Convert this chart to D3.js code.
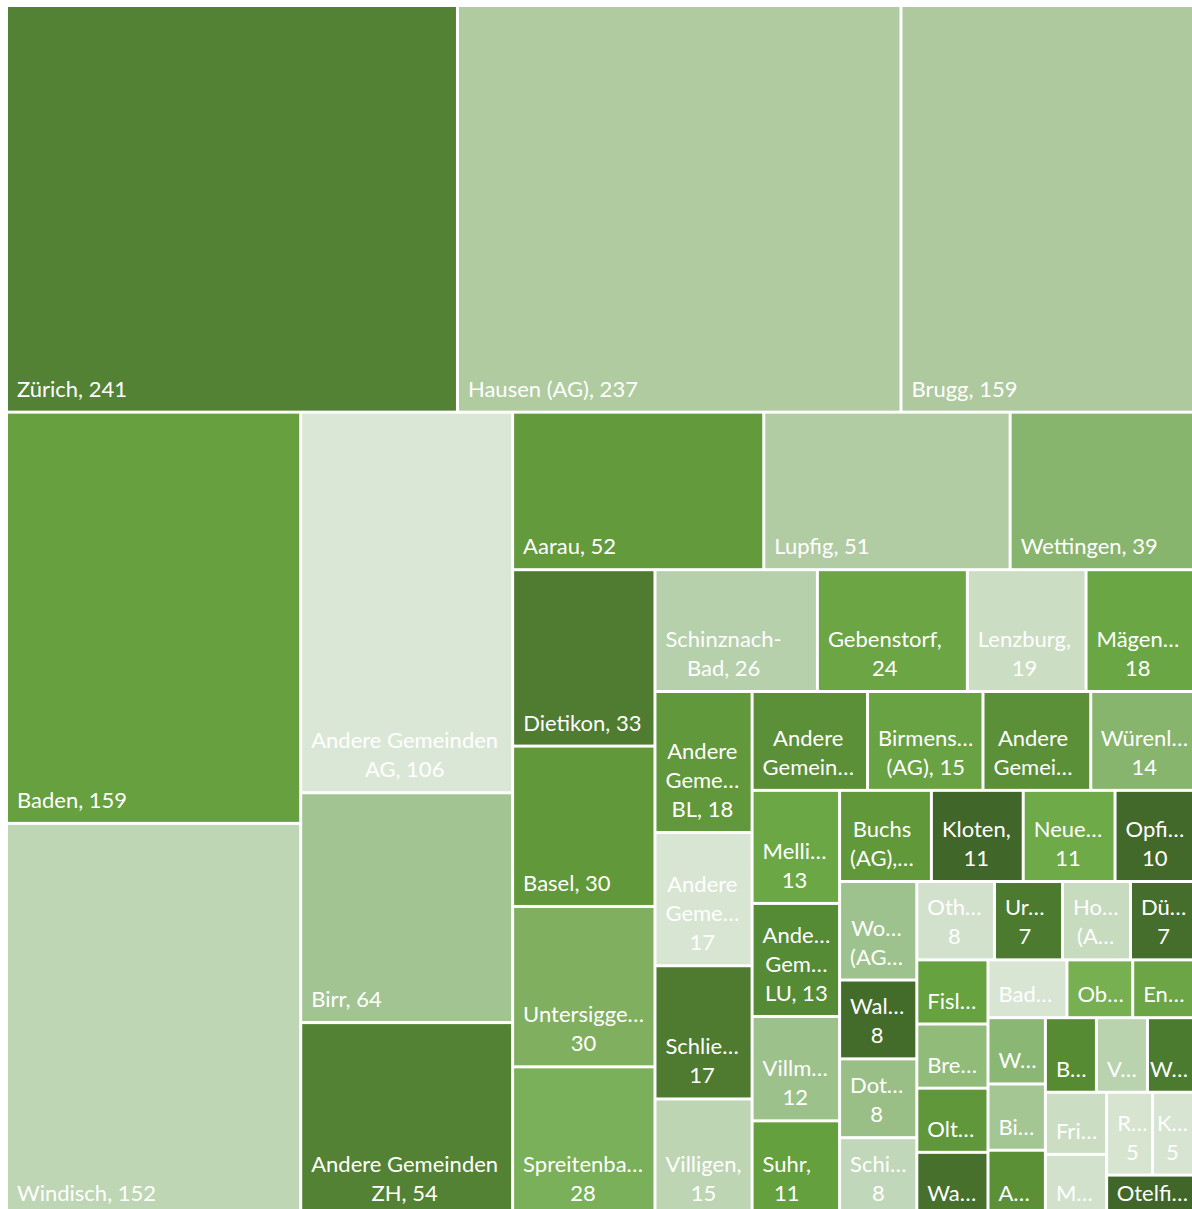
<!DOCTYPE html>
<html>
<head>
<meta charset="utf-8">
<script src="https://cdn.jsdelivr.net/npm/d3@7"></script>
<style>
html,body{margin:0;padding:0;background:#fff;}
svg{display:block;}
</style>
</head>
<body>
<svg id="chart" width="1192" height="1209"></svg>
<script>
const places = [
  "Zürich","Hausen (AG)","Brugg","Baden","Windisch","Andere Gemeinden AG","Birr","Andere Gemeinden ZH",
  "Aarau","Lupfig","Wettingen","Dietikon","Basel","Untersiggenthal","Spreitenbach","Schinznach-Bad",
  "Gebenstorf","Lenzburg","Mägenwil","Andere Gemeinden BL","Andere Gemeinden","Schlieren","Villigen",
  "Andere Gemeinden SO","Birmenstorf (AG)","Andere Gemeinden BE","Würenlingen","Mellingen",
  "Andere Gemeinden LU","Villmergen","Suhr","Buchs (AG)","Kloten","Neuenhof","Opfikon","Wohlen (AG)",
  "Wallisellen","Dottikon","Schinznach-Dorf","Othmarsingen","Urdorf","Holderbank (AG)","Dübendorf",
  "Fislisbach","Bremgarten (AG)","Olten","Waltenschwil","Bad Zurzach","Oberrohrdorf","Ennetbaden",
  "Wohlenschwil","Birrhard","Auenstein","Bözberg","Veltheim (AG)","Winterthur","Frick","Mülligen",
  "Riniken","Killwangen","Otelfingen"
];
const counts = [
  241,237,159,159,152,106,64,54,
  52,51,39,33,30,30,28,26,
  24,19,18,18,17,17,15,
  15,15,14,14,13,
  13,12,11,11,11,11,10,10,
  8,8,8,8,7,7,7,
  6,6,6,6,6,5,5,
  5,5,5,5,5,5,5,5,
  5,5,5
];
const tileColors = [
  "#548235","#afcb9f","#aec99e","#66a03f","#bed6b4","#dbe7d6","#a2c492","#548235",
  "#639b3c","#b1cca3","#88b56d","#4f7c31","#60983a","#80b05f","#7bb05b","#b6d0ab",
  "#6ba544","#cbddc3","#6ba645","#60983b","#d8e5d2","#4e7b30","#bdd5b3",
  "#5b8f38","#68a242","#5b8f38","#87b56d","#6ca746",
  "#558b35","#9dc18b","#64a03e","#60983a","#406729","#6eaa48","#42682a","#9ec28d",
  "#436c2b","#99bf87","#c1d7b9","#d2e1cc","#4c7b2f","#c7dbbf","#456e2c",
  "#67a241","#90bb79","#5f973a","#46702c","#d8e5d3","#77b051","#6ba545",
  "#8ab773","#a3c693","#5b9037","#568b34","#b9d3af","#4b7b2f","#cbdec4","#d1e1cb",
  "#d6e4d0","#d7e4d1","#406729"
];

const data = places.map((p, i) => ({name: p, value: counts[i], color: tileColors[i]}));

const svg = d3.select("#chart");
const SVG_W = 1192;
const X0 = 8, Y0 = 7, W = 1189, H = 1208;

const root = d3.hierarchy({children: data})
  .sum(d => d.value || 0)
  .sort((a, b) => b.value - a.value);

// Squarified tiling that stops a strip when the newest tile's aspect ratio gets worse
function stripTile(parent, x0, y0, x1, y1) {
  const nodes = parent.children, n = nodes.length;
  let value = parent.value, i0 = 0;
  while (i0 < n) {
    const dx = x1 - x0, dy = y1 - y0;
    const across = dx < dy; // strip along the top
    const side = across ? dx : dy;
    const depth = across ? dy : dx;
    const ratio = (v, s) => {
      const t = depth * s / value;
      const len = side * v / s;
      return Math.max(t / len, len / t);
    };
    let sum = nodes[i0].value;
    let prev = ratio(nodes[i0].value, sum);
    let i1 = i0 + 1;
    while (i1 < n) {
      const v = nodes[i1].value;
      const r = ratio(v, sum + v);
      if (r > prev) break;
      sum += v; prev = r; i1++;
    }
    const row = {children: nodes.slice(i0, i1), value: sum};
    if (i1 >= n) {
      if (across) d3.treemapDice(row, x0, y0, x1, y1);
      else d3.treemapSlice(row, x0, y0, x1, y1);
    } else if (across) {
      const yy = y0 + dy * sum / value;
      d3.treemapDice(row, x0, y0, x1, yy); y0 = yy;
    } else {
      const xx = x0 + dx * sum / value;
      d3.treemapSlice(row, x0, y0, xx, y1); x0 = xx;
    }
    value -= sum;
    i0 = i1;
  }
}

d3.treemap()
  .tile(stripTile)
  .size([W, H])
  .paddingInner(3)
  (root);

const FONT_SIZE = 22, FONT_FAMILY = "Lato";
const LINE_H = 29;
const ctx = document.createElement("canvas").getContext("2d");
ctx.font = FONT_SIZE + "px " + FONT_FAMILY;
const measure = s => ctx.measureText(s).width;
const ELL = "\u2026";

function truncWord(word, avail) {
  for (let k = word.length - 1; k >= 1; k--) {
    const t = word.slice(0, k) + ELL;
    if (measure(t) <= avail) return t;
  }
  return word.slice(0, 1) + ELL;
}

function wrap(text, w, h) {
  const avail = w - 16;
  const maxLines = Math.max(1, Math.floor((h - 16) / LINE_H));
  const words = text.split(" ");
  const lines = [];
  let cur = "";
  words.forEach(word => {
    const test = cur ? cur + " " + word : word;
    if (measure(test) <= avail) { cur = test; return; }
    if (cur) { lines.push(cur); cur = ""; }
    if (measure(word) <= avail) { cur = word; return; }
    const idx = word.indexOf("-");
    if (idx > 0 && measure(word.slice(0, idx + 1)) <= avail) {
      lines.push(word.slice(0, idx + 1));
      const rest = word.slice(idx + 1);
      if (measure(rest) <= avail) cur = rest; else lines.push(truncWord(rest, avail));
    } else {
      lines.push(truncWord(word, avail));
    }
  });
  if (cur) lines.push(cur);
  if (lines.length > maxLines) {
    const kept = lines.slice(0, maxLines);
    let last = kept[maxLines - 1];
    if (!last.endsWith(ELL)) {
      if (measure(last + ELL) <= avail) last = last + ELL;
      else last = truncWord(last, avail);
    }
    kept[maxLines - 1] = last;
    return kept;
  }
  return lines;
}

const g = svg.append("g").attr("transform", `translate(${X0},${Y0})`);

const cell = g.selectAll("g.cell")
  .data(root.leaves())
  .join("g")
  .attr("class", "cell");

cell.append("rect")
  .attr("x", d => d.x0)
  .attr("y", d => d.y0)
  .attr("width", d => d.x1 - d.x0)
  .attr("height", d => d.y1 - d.y0)
  .attr("fill", d => d.data.color);

cell.each(function(d) {
  const w = d.x1 - d.x0, h = d.y1 - d.y0;
  const lines = wrap(d.data.name + ", " + d.data.value, w, h);
  const blockW = d3.max(lines, measure);
  let cx = d.x0 + 9 + blockW / 2;
  // keep labels of tiles at the picture's right border inside the visible area
  cx = Math.min(cx, SVG_W - X0 - 4 - blockW / 2);
  const n = lines.length;
  const baseY = d.y1 - 14;
  const t = d3.select(this).append("text")
    .attr("font-family", FONT_FAMILY)
    .attr("font-size", FONT_SIZE)
    .attr("fill", "#ffffff")
    .attr("text-anchor", "middle");
  lines.forEach((ln, i) => {
    t.append("tspan")
      .attr("x", cx)
      .attr("y", baseY - (n - 1 - i) * LINE_H)
      .text(ln);
  });
});
</script>
</body>
</html>
